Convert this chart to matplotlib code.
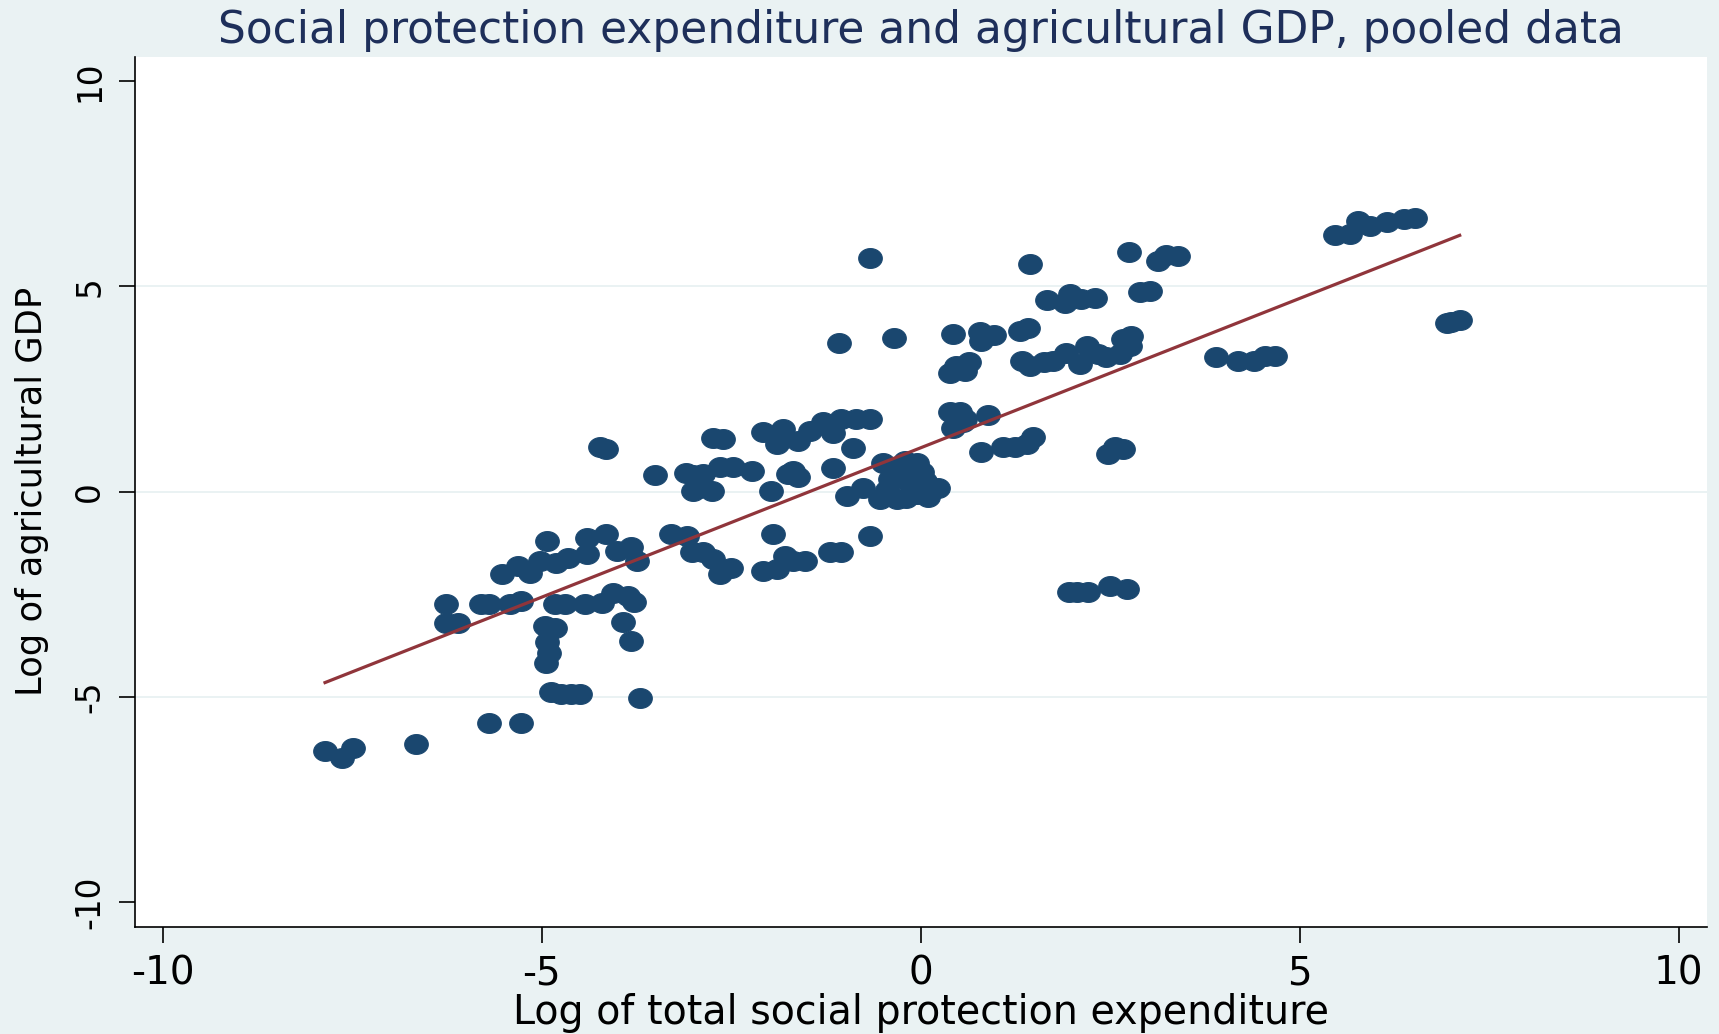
import matplotlib.pyplot as plt
import numpy as np
from matplotlib.path import Path

plt.rcParams['font.family'] = ['DejaVu Sans']
plt.rcParams['axes.unicode_minus'] = False

# log of total social protection expenditure
log_spend = [
    -7.86, -7.64, -7.49, -6.66, -5.69, -5.28,
    -4.88, -4.75, -4.62, -4.50, -3.71,
    -4.96, -4.83, -4.93, -4.90, -4.94,
    -6.27, -6.26, -6.10,
    -5.80, -5.69, -5.42, -5.27, -4.83, -4.70, -4.43, -4.21, -4.06, -3.86, -3.79,
    -3.93, -3.82,
    -5.53, -5.31, -5.16, -5.03, -4.81, -4.65, -4.41, -4.41, -4.15, -4.01, -3.82, -3.75,
    -4.93,
    -4.23, -4.15, -3.50,
    -3.10, -3.00, -3.00, -2.92,
    -3.29, -3.09, -3.02, -2.87, -2.74, -2.65, -2.50,
    -2.08, -1.90, -1.79, -1.68, -1.53, -1.95, -1.20, -1.05, -0.67,
    -2.76, -2.87, -2.65, -2.48, -2.23, -1.97, -1.75, -1.68, -1.62, -1.16, -0.98, -0.90,
    -0.76, -0.54, -0.32, -0.20, -0.50, -0.21, -0.05, -0.41, -0.23, 0.01, 0.10, 0.23,
    -0.10, -0.14, -0.45, -0.30, -0.05, 0.05,
    0.38, 0.52, 0.56, 0.43, 0.89,
    0.80, 1.09, 1.24, 1.40, 1.48,
    -2.74, -2.61,
    -2.08, -1.90, -1.82, -1.62, -1.46, -1.29, -1.16, -1.05, -0.85, -0.67,
    1.44, 2.75, 3.13, 3.24, 3.40,
    1.66, 1.90, 1.97, 2.12, 2.30, 2.89, 3.02,
    0.43, 0.78, 0.80, 0.96, 1.31, 1.42,
    0.47, 0.63, 0.58, 0.38,
    1.33, 1.44, 1.62, 1.75, 1.92, 2.10, 2.19, 2.34, 2.45, 2.63, 2.67, 2.78, 2.76,
    3.90, 4.19, 4.39, 4.54, 4.67,
    0.47, 0.58,
    2.47, 2.67, 2.56,
    1.95, 2.06, 2.21, 2.50, 2.72,
    5.46, 5.66, 5.77, 5.93, 6.15, 6.37, 6.52,
    6.94, 7.00, 7.11,
    -0.67, -0.35, -1.08,
]

# log of agricultural GDP
log_agri = [
    -6.33, -6.48, -6.24, -6.16, -5.64, -5.64,
    -4.88, -4.92, -4.94, -4.94, -5.02,
    -3.27, -3.31, -3.66, -3.92, -4.18,
    -2.73, -3.19, -3.21,
    -2.73, -2.73, -2.73, -2.66, -2.73, -2.73, -2.73, -2.71, -2.46, -2.54, -2.70,
    -3.17, -3.64,
    -2.01, -1.81, -1.97, -1.69, -1.73, -1.61, -1.52, -1.12, -1.04, -1.44, -1.36, -1.69,
    -1.20,
    1.08, 1.04, 0.41,
    0.45, 0.40, 0.02, 0.08,
    -1.04, -1.08, -1.48, -1.48, -1.65, -2.01, -1.85,
    -1.93, -1.89, -1.56, -1.69, -1.69, -1.04, -1.48, -1.48, -1.09,
    0.02, 0.43, 0.59, 0.61, 0.51, 0.02, 0.43, 0.51, 0.35, 0.57, -0.10, 1.06,
    0.10, -0.18, -0.18, -0.15, 0.71, 0.75, 0.70, 0.30, 0.30, 0.47, -0.14, 0.10,
    0.14, 0.63, 0.05, 0.50, -0.05, 0.25,
    1.93, 1.93, 1.69, 1.56, 1.86,
    0.96, 1.08, 1.08, 1.16, 1.32,
    1.30, 1.28,
    1.46, 1.16, 1.52, 1.24, 1.48, 1.69, 1.44, 1.77, 1.77, 1.77,
    5.55, 5.85, 5.63, 5.77, 5.75,
    4.68, 4.60, 4.81, 4.69, 4.73, 4.86, 4.90,
    3.84, 3.88, 3.68, 3.82, 3.92, 3.98,
    3.07, 3.15, 2.95, 2.90,
    3.19, 3.07, 3.15, 3.19, 3.39, 3.11, 3.55, 3.35, 3.27, 3.35, 3.72, 3.80, 3.55,
    3.27, 3.19, 3.19, 3.31, 3.30,
    1.81, 1.77,
    0.91, 1.04, 1.08,
    -2.44, -2.44, -2.44, -2.30, -2.38,
    6.25, 6.28, 6.60, 6.48, 6.56, 6.64, 6.68,
    4.11, 4.13, 4.19,
    5.70, 3.74, 3.63,
]

# linear fit
fit_intercept = 1.07
fit_slope = 0.728

ticks = [-10, -5, 0, 5, 10]

navy = '#1a476f'
maroon = '#90353b'
bg = '#eaf2f3'

x = np.array(log_spend)
y = np.array(log_agri)

# stata circles come out stretched, so use an ellipse marker
t = np.linspace(0, 2 * np.pi, 60)
ellipse = Path(np.column_stack([np.cos(t), 0.84 * np.sin(t)]), closed=True)

fig = plt.figure(figsize=(17.19, 10.34), dpi=100, facecolor=bg)
ax = fig.add_axes([0.0784, 0.1038, 0.9145, 0.8414])
ax.set_facecolor('white')

for g in [-5, 0, 5]:
    ax.axhline(g, color=bg, lw=1.4, zorder=0)

ax.plot(x, y, linestyle='none', marker=ellipse, markersize=17,
        color=navy, markeredgecolor=navy, markeredgewidth=0.8, zorder=2)

xf = np.array([x.min(), x.max()])
ax.plot(xf, fit_intercept + fit_slope * xf, color=maroon, lw=2.3, zorder=3)

ax.set_xlim(-10.37, 10.37)
ax.set_ylim(-10.6, 10.6)
ax.set_xticks(ticks)
ax.set_yticks(ticks)
ax.set_xticklabels([str(v) for v in ticks], fontsize=28)
ax.set_yticklabels([str(v) for v in ticks], rotation=90, va='center', fontsize=23.5)

for s in ['top', 'right']:
    ax.spines[s].set_visible(False)
for s in ['left', 'bottom']:
    ax.spines[s].set_linewidth(1.2)

ax.tick_params(axis='both', length=11.5, width=1.2, direction='out')
ax.tick_params(axis='x', pad=8.5)
ax.tick_params(axis='y', pad=9)

cx = 0.0784 + 0.9145 / 2
fig.text(cx, 0.9587, 'Social protection expenditure and agricultural GDP, pooled data',
         ha='center', va='baseline', fontsize=31.6, color='#1e2f5a')
fig.text(cx, 0.0095, 'Log of total social protection expenditure',
         ha='center', va='baseline', fontsize=28.5)
fig.text(0.0242, 0.1038 + 0.8414 / 2, 'Log of agricultural GDP', rotation=90,
         rotation_mode='anchor', ha='center', va='baseline', fontsize=25.4)

fig.savefig('out.png', dpi=100, facecolor=bg)
